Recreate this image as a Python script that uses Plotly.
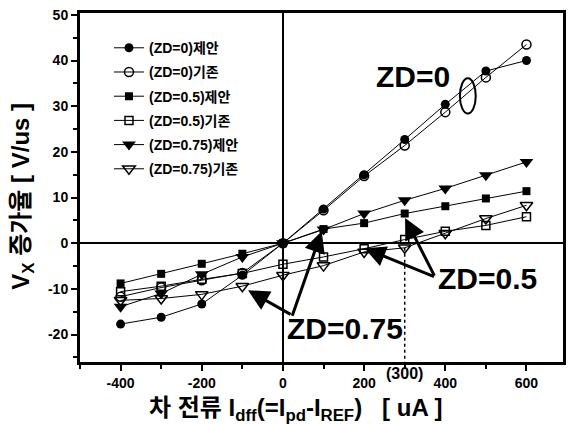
import plotly.graph_objects as go

x_vals = [-400, -300, -200, -100, 0, 100, 200, 300, 400, 500, 600]

zd0_prop = [-17.7, -16.2, -13.3, -7.0, 0, 7.5, 15.0, 22.7, 30.4, 37.7, 40.0]
zd0_conv = [-11.7, -9.7, -8.1, -6.5, 0, 7.2, 14.7, 21.4, 28.7, 36.3, 43.5]
zd05_prop = [-8.8, -6.7, -4.5, -2.3, 0, 3.1, 4.4, 6.5, 8.1, 9.8, 11.4]
zd05_conv = [-10.6, -9.4, -7.9, -6.6, -4.6, -3.0, -1.2, 0.8, 2.6, 3.9, 5.8]
zd075_prop = [-13.9, -11.0, -6.8, -3.0, 0, 3.0, 6.5, 9.4, 12.0, 14.9, 17.8]
zd075_conv = [-12.5, -12.1, -11.2, -9.4, -7.0, -4.9, -1.9, -1.0, 2.2, 5.4, 8.3]

series_names = ["(ZD=0)제안", "(ZD=0)기존", "(ZD=0.5)제안", "(ZD=0.5)기존",
                "(ZD=0.75)제안", "(ZD=0.75)기존"]
series_vals = [zd0_prop, zd0_conv, zd05_prop, zd05_conv, zd075_prop, zd075_conv]
symbols = ["circle", "circle-open", "square", "square-open",
           "triangle-down", "triangle-down-open"]
sizes = [9, 9, 8, 8, 12, 11]

x_ticks = [-400, -200, 0, 200, 400, 600]
y_ticks = [-20, -10, 0, 10, 20, 30, 40, 50]

FONT = "Liberation Sans, Arial, Noto Sans CJK KR, sans-serif"

fig = go.Figure()
for i, (name, vals, sym, sz) in enumerate(zip(series_names, series_vals, symbols, sizes)):
    is_open = sym.endswith("open")
    fig.add_trace(go.Scatter(
        x=x_vals, y=vals, name=name, mode="lines+markers",
        legendgroup=f"g{i}",
        line=dict(color="black", width=1),
        marker=dict(symbol=sym, size=sz, color="black",
                    line=dict(color="black", width=1.5 if is_open else 0)),
    ))

big = dict(family=FONT, size=30, color="black", weight="bold")
annos = [
    dict(x=321, y=36.5, text="ZD=0", showarrow=False, font=big),
    dict(x=504, y=-7.7, text="ZD=0.5", showarrow=False, font=big),
    dict(x=154, y=-18.6, text="ZD=0.75", showarrow=False, font=big),
    dict(x=300, y=-0.032, yref="paper", yanchor="middle", xanchor="center",
         text="(300)", showarrow=False,
         font=dict(family=FONT, size=16, color="black", weight="bold")),
    dict(xref="paper", yref="paper", x=-0.119, y=0.475, textangle=-90,
         xanchor="center", yanchor="middle",
         text="V<sub>X</sub> 증가율 [ V/us ]", showarrow=False,
         font=dict(family=FONT, size=24, color="black", weight="bold")),
    dict(xref="paper", yref="paper", x=0.447, y=-0.1375,
         xanchor="center", yanchor="middle",
         text="차 전류 I<sub>dff</sub>(=I<sub>pd</sub>-I<sub>REF</sub>)   [ uA ]",
         showarrow=False,
         font=dict(family=FONT, size=24, color="black", weight="bold")),
]
arrows = [
    (301, 5.5, 30, 59),
    (201, -1.1, 71, 29),
    (95.5, 2.6, -30, 86),
    (-86, -10.3, 44, 25),
]
for ax_, ay_, dx, dy in arrows:
    annos.append(dict(x=ax_, y=ay_, ax=dx, ay=dy, text="", showarrow=True,
                      arrowhead=2, arrowsize=1.4, arrowwidth=3, arrowcolor="black"))

fig.update_layout(
    width=568, height=424,
    margin=dict(l=80, r=2, t=13, b=62),
    paper_bgcolor="white", plot_bgcolor="white",
    font=dict(family=FONT, color="black"),
    annotations=annos,
    shapes=[
        dict(type="circle", xref="x", yref="y", x0=436, x1=475, y0=28.4, y1=36.1,
             line=dict(color="black", width=2)),
        dict(type="line", xref="x", yref="y", x0=300, x1=300, y0=-1.0, y1=-26,
             line=dict(color="black", width=1.5, dash="dot")),
    ],
    legend=dict(x=0.06, y=0.945, xanchor="left", yanchor="top",
                bgcolor="rgba(0,0,0,0)", tracegroupgap=3,
                font=dict(family=FONT, size=14, color="black", weight="bold")),
    showlegend=True,
)
fig.update_xaxes(
    range=[-500, 690], tickvals=x_ticks, ticktext=[str(v) for v in x_ticks],
    ticks="outside", ticklen=6, tickwidth=2, tickcolor="black",
    minor=dict(dtick=100, ticks="outside", ticklen=4, tickcolor="black"),
    showgrid=False, zeroline=True, zerolinecolor="black", zerolinewidth=2,
    showline=True, linecolor="black", linewidth=3, mirror=True,
    tickfont=dict(family=FONT, size=14, color="black", weight="bold"),
)
fig.update_yaxes(
    range=[-26, 50.4], tickvals=y_ticks, ticktext=[str(v) for v in y_ticks],
    ticks="outside", ticklen=6, tickwidth=2, tickcolor="black",
    minor=dict(dtick=5, ticks="outside", ticklen=4, tickcolor="black"),
    showgrid=False, zeroline=True, zerolinecolor="black", zerolinewidth=2,
    showline=True, linecolor="black", linewidth=3, mirror=True,
    tickfont=dict(family=FONT, size=14, color="black", weight="bold"),
)

fig.write_html("out.html")
